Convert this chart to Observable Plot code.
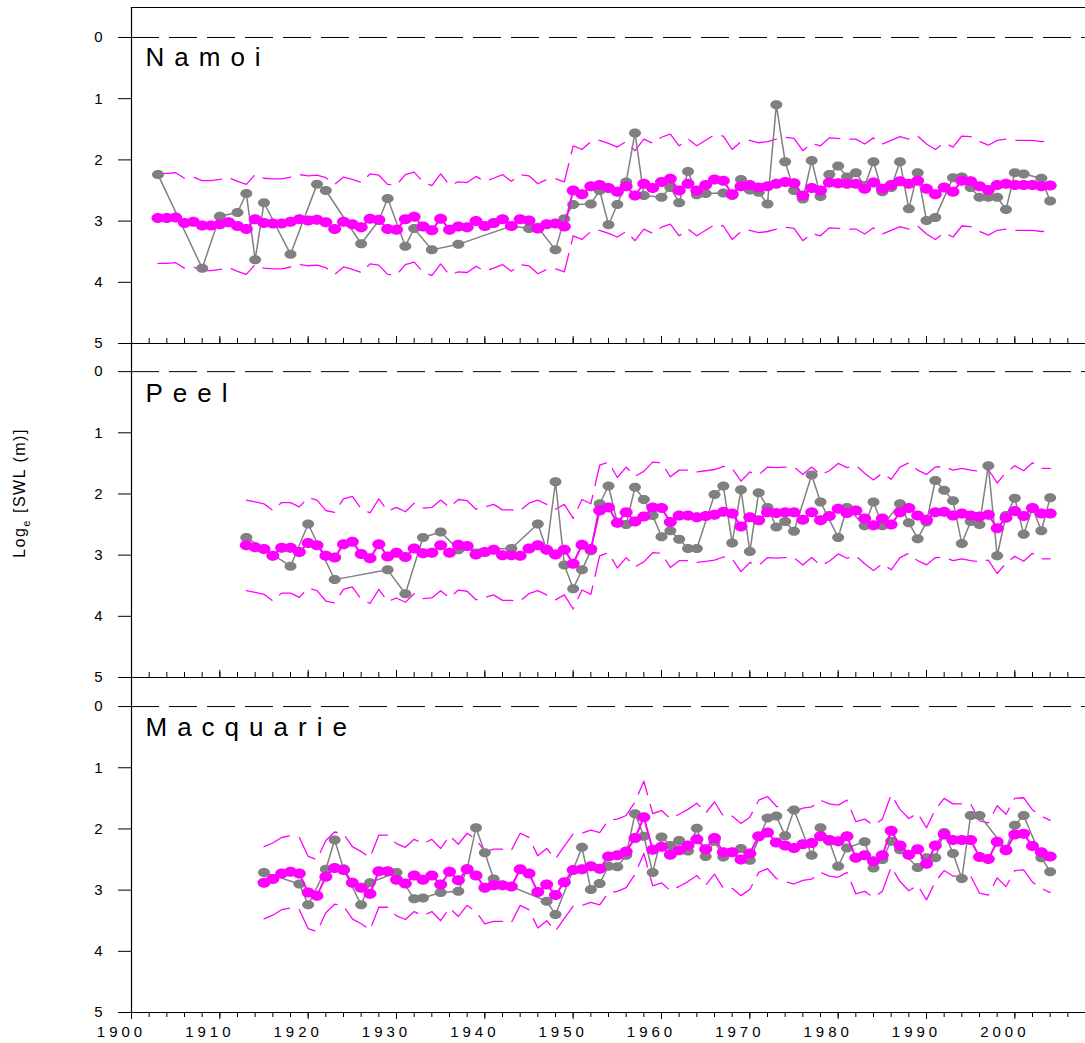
<!DOCTYPE html>
<html>
<head>
<meta charset="utf-8">
<script src="https://cdn.jsdelivr.net/npm/d3@7"></script>
<script src="https://cdn.jsdelivr.net/npm/@observablehq/plot@0.6"></script>
<style>
  html, body { margin: 0; padding: 0; background: #fff; }
  #chart svg { display: block; }
</style>
</head>
<body>
<div id="chart"></div>
<script>
// ---------------- data ----------------
const panelNames = ["Namoi", "Peel", "Macquarie"];
const yTicks = [0, 1, 2, 3, 4, 5];
const xLabelTicks = [1900, 1910, 1920, 1930, 1940, 1950, 1960, 1970, 1980, 1990, 2000];

// observed (grey)
const namoiObsYears = [1903,1908,1910,1912,1913,1914,1915,1918,1921,1922,1926,1928,1929,1931,1932,1934,1937,1943,1945,1946,1948,1949,1950,1952,1953,1954,1955,1956,1957,1958,1960,1961,1962,1963,1964,1965,1967,1968,1969,1970,1971,1972,1973,1974,1975,1976,1977,1978,1979,1980,1981,1982,1983,1984,1985,1986,1987,1988,1989,1990,1991,1993,1994,1995,1996,1997,1998,1999,2000,2001,2003,2004];
const namoiObsValues = [2.24,3.77,2.92,2.86,2.55,3.63,2.70,3.54,2.40,2.50,3.37,2.99,2.63,3.41,3.12,3.47,3.38,3.08,3.12,3.10,3.47,2.96,2.73,2.72,2.50,3.06,2.73,2.36,1.56,2.58,2.61,2.45,2.70,2.19,2.57,2.55,2.54,2.58,2.32,2.49,2.53,2.72,1.10,2.03,2.50,2.64,2.01,2.60,2.24,2.10,2.28,2.21,2.42,2.03,2.52,2.45,2.03,2.80,2.21,2.99,2.94,2.29,2.28,2.45,2.61,2.61,2.61,2.81,2.21,2.23,2.30,2.67];

const peelObsYears = [1913,1918,1920,1923,1929,1931,1933,1935,1937,1943,1946,1947,1948,1949,1950,1951,1952,1953,1954,1955,1956,1957,1958,1959,1960,1961,1962,1963,1964,1966,1967,1968,1969,1970,1971,1972,1973,1974,1975,1977,1978,1980,1981,1983,1984,1985,1987,1988,1989,1990,1991,1992,1993,1994,1995,1996,1997,1998,1999,2000,2001,2002,2003,2004];
const peelObsValues = [2.71,3.18,2.49,3.40,3.24,3.63,2.71,2.62,2.91,2.89,2.49,2.91,1.80,3.16,3.55,3.24,2.93,2.16,1.87,2.47,2.50,1.89,2.09,2.35,2.70,2.60,2.74,2.89,2.89,2.01,1.87,2.80,1.93,2.94,1.98,2.22,2.54,2.45,2.61,1.69,2.13,2.71,2.22,2.52,2.13,2.52,2.16,2.47,2.73,2.46,1.78,1.94,2.11,2.81,2.45,2.50,1.54,3.01,2.35,2.07,2.66,2.23,2.60,2.06];

const macqObsYears = [1915,1919,1920,1922,1923,1924,1926,1927,1930,1932,1933,1935,1937,1938,1939,1940,1941,1947,1948,1951,1952,1953,1954,1955,1956,1957,1958,1959,1960,1961,1962,1963,1964,1965,1966,1967,1969,1970,1972,1973,1974,1975,1977,1978,1979,1980,1981,1983,1984,1985,1986,1987,1989,1990,1991,1992,1993,1994,1995,1996,1999,2000,2001,2003,2004];
const macqObsValues = [2.71,2.90,3.24,2.66,2.18,2.65,3.24,2.88,2.71,3.14,3.13,3.04,3.02,2.65,1.98,2.39,2.82,3.18,3.40,2.30,2.99,2.89,2.61,2.62,2.43,1.75,2.12,2.71,2.13,2.27,2.19,2.36,1.99,2.45,2.20,2.46,2.32,2.51,1.82,1.79,2.11,1.69,2.43,1.98,2.20,2.61,2.31,2.21,2.64,2.50,2.20,2.34,2.63,2.47,2.47,2.06,2.40,2.81,1.78,1.78,2.33,1.94,1.78,2.47,2.70];

// fitted (magenta) with dashed bounds, one value per year from the start year
const namoiFitStart = 1903;
const namoiFit = [2.95,2.95,2.94,3.03,3.01,3.07,3.07,3.05,3.02,3.08,
  3.13,2.97,3.03,3.04,3.04,3.01,2.97,2.99,2.98,3.02,
  3.13,3.01,3.05,3.10,2.96,2.98,3.13,3.14,2.97,2.93,
  3.09,3.15,2.96,3.14,3.09,3.10,3.00,3.08,3.03,2.97,
  3.08,2.97,2.99,3.12,3.05,3.04,3.09,
  2.50,2.56,2.43,2.41,2.46,2.52,2.43,2.58,2.39,2.46,
  2.36,2.31,2.50,2.39,2.50,2.41,2.32,2.34,2.56,2.43,
  2.41,2.45,2.43,2.39,2.36,2.38,2.58,2.46,2.50,2.37,
  2.38,2.39,2.39,2.47,2.37,2.47,2.41,2.35,2.39,2.34,
  2.47,2.56,2.45,2.52,2.34,2.35,2.43,2.49,2.41,2.39,
  2.41,2.41,2.41,2.43,2.42];
const namoiUpper = [2.22,2.22,2.21,2.30,2.28,2.34,2.34,2.32,2.29,2.35,
  2.40,2.24,2.30,2.31,2.31,2.28,2.24,2.26,2.25,2.29,
  2.40,2.28,2.32,2.37,2.23,2.25,2.40,2.41,2.24,2.20,
  2.36,2.42,2.23,2.41,2.36,2.37,2.27,2.35,2.30,2.24,
  2.35,2.24,2.26,2.39,2.32,2.31,2.36,
  1.77,1.83,1.70,1.68,1.73,1.79,1.70,1.85,1.66,1.73,
  1.63,1.58,1.77,1.66,1.77,1.68,1.59,1.61,1.83,1.70,
  1.68,1.72,1.70,1.66,1.63,1.65,1.85,1.73,1.77,1.64,
  1.65,1.66,1.66,1.74,1.64,1.74,1.68,1.62,1.66,1.61,
  1.74,1.83,1.72,1.79,1.61,1.62,1.70,1.76,1.68,1.66,
  1.68,1.68,1.68,1.70,1.69];
const namoiLower = [3.69,3.69,3.68,3.77,3.75,3.81,3.81,3.79,3.76,3.82,
  3.87,3.71,3.77,3.78,3.78,3.75,3.71,3.73,3.72,3.76,
  3.87,3.75,3.79,3.84,3.70,3.72,3.87,3.88,3.71,3.67,
  3.83,3.89,3.70,3.88,3.83,3.84,3.74,3.82,3.77,3.71,
  3.82,3.71,3.73,3.86,3.79,3.78,3.83,
  3.24,3.30,3.17,3.15,3.20,3.26,3.17,3.32,3.13,3.20,
  3.10,3.05,3.24,3.13,3.24,3.15,3.06,3.08,3.30,3.17,
  3.15,3.19,3.17,3.13,3.10,3.12,3.32,3.20,3.24,3.11,
  3.12,3.13,3.13,3.21,3.11,3.21,3.15,3.09,3.13,3.08,
  3.21,3.30,3.19,3.26,3.08,3.09,3.17,3.23,3.15,3.13,
  3.15,3.15,3.15,3.17,3.16];

const peelFitStart = 1913;
const peelFit = [2.84,2.87,2.90,3.01,2.88,2.88,2.95,2.80,2.84,3.01,
  3.04,2.82,2.78,2.98,3.05,2.82,3.02,2.96,3.03,2.89,
  2.97,2.96,2.84,2.96,2.83,2.85,2.99,2.95,2.91,3.00,
  3.00,3.01,2.89,2.84,2.91,2.99,2.91,3.14,2.83,2.90,
  2.27,2.22,2.47,2.30,2.45,2.37,2.22,2.23,2.46,2.35,
  2.35,2.38,2.36,2.34,2.29,2.32,2.53,2.38,2.43,2.30,
  2.31,2.30,2.30,2.42,2.30,2.43,2.36,2.24,2.31,2.27,
  2.40,2.51,2.40,2.50,2.30,2.23,2.35,2.42,2.30,2.29,
  2.35,2.32,2.35,2.37,2.34,2.56,2.39,2.28,2.36,2.23,
  2.32,2.32];
const peelUpper = [2.10,2.13,2.16,2.27,2.14,2.14,2.21,2.06,2.10,2.27,
  2.30,2.08,2.04,2.24,2.31,2.08,2.28,2.22,2.29,2.15,
  2.23,2.22,2.10,2.22,2.09,2.11,2.25,2.21,2.17,2.26,
  2.26,2.27,2.15,2.10,2.17,2.25,2.17,2.40,2.09,2.16,
  1.53,1.48,1.73,1.56,1.71,1.63,1.48,1.49,1.72,1.61,
  1.61,1.64,1.62,1.60,1.55,1.58,1.79,1.64,1.69,1.56,
  1.57,1.56,1.56,1.68,1.56,1.69,1.62,1.50,1.57,1.53,
  1.66,1.77,1.66,1.76,1.56,1.49,1.61,1.68,1.56,1.55,
  1.61,1.58,1.61,1.63,1.60,1.82,1.65,1.54,1.62,1.49,
  1.58,1.58];
const peelLower = [3.58,3.61,3.64,3.75,3.62,3.62,3.69,3.54,3.58,3.75,
  3.78,3.56,3.52,3.72,3.79,3.56,3.76,3.70,3.77,3.63,
  3.71,3.70,3.58,3.70,3.57,3.59,3.73,3.69,3.65,3.74,
  3.74,3.75,3.63,3.58,3.65,3.73,3.65,3.88,3.57,3.64,
  3.01,2.96,3.21,3.04,3.19,3.11,2.96,2.97,3.20,3.09,
  3.09,3.12,3.10,3.08,3.03,3.06,3.27,3.12,3.17,3.04,
  3.05,3.04,3.04,3.16,3.04,3.17,3.10,2.98,3.05,3.01,
  3.14,3.25,3.14,3.24,3.04,2.97,3.09,3.16,3.04,3.03,
  3.09,3.06,3.09,3.11,3.08,3.30,3.13,3.02,3.10,2.97,
  3.06,3.06];

const macqFitStart = 1915;
const macqFit = [2.88,2.82,2.73,2.70,2.73,3.04,3.09,2.78,2.64,2.67,
  2.88,2.96,3.06,2.69,2.69,2.83,2.89,2.76,2.83,2.76,
  2.91,2.70,2.84,2.66,2.76,2.96,2.92,2.92,2.94,2.66,
  2.73,3.03,2.91,3.08,2.87,2.67,2.66,2.61,2.65,2.45,
  2.43,2.37,2.15,1.81,2.34,2.29,2.42,2.35,2.27,2.17,
  2.33,2.15,2.38,2.38,2.50,2.40,2.12,2.06,2.22,2.27,
  2.31,2.25,2.23,2.12,2.18,2.20,2.12,2.47,2.43,2.53,
  2.43,2.03,2.27,2.42,2.33,2.57,2.27,2.09,2.18,2.18,
  2.18,2.46,2.49,2.21,2.35,2.09,2.08,2.28,2.38,2.45];
const macqUpper = [2.29,2.23,2.14,2.11,2.14,2.45,2.50,2.19,2.05,2.08,
  2.29,2.37,2.47,2.10,2.10,2.24,2.30,2.17,2.24,2.17,
  2.32,2.11,2.25,2.07,2.17,2.37,2.33,2.33,2.35,2.07,
  2.14,2.44,2.32,2.49,2.28,2.08,2.07,2.02,2.06,1.86,
  1.84,1.78,1.56,1.22,1.75,1.70,1.83,1.76,1.68,1.58,
  1.74,1.56,1.79,1.79,1.91,1.81,1.53,1.47,1.63,1.68,
  1.72,1.66,1.64,1.53,1.59,1.61,1.53,1.88,1.84,1.94,
  1.84,1.44,1.68,1.83,1.74,1.98,1.68,1.50,1.59,1.59,
  1.59,1.87,1.90,1.62,1.76,1.50,1.49,1.69,1.79,1.86];
const macqLower = [3.47,3.41,3.32,3.29,3.32,3.63,3.68,3.37,3.23,3.26,
  3.47,3.55,3.65,3.28,3.28,3.42,3.48,3.35,3.42,3.35,
  3.50,3.29,3.43,3.25,3.35,3.55,3.51,3.51,3.53,3.25,
  3.32,3.62,3.50,3.67,3.46,3.26,3.25,3.20,3.24,3.04,
  3.02,2.96,2.74,2.40,2.93,2.88,3.01,2.94,2.86,2.76,
  2.92,2.74,2.97,2.97,3.09,2.99,2.71,2.65,2.81,2.86,
  2.90,2.84,2.82,2.71,2.77,2.79,2.71,3.06,3.02,3.12,
  3.02,2.62,2.86,3.01,2.92,3.16,2.86,2.68,2.77,2.77,
  2.77,3.05,3.08,2.80,2.94,2.68,2.67,2.87,2.97,3.04];

// ---------------- drawing ----------------
const GREY = "#808080", MAG = "#ff00ff";
const FONT = '"Liberation Sans", Arial, Helvetica, sans-serif';

function ellipse(kx, ky) {
  return {
    draw(ctx, size) {
      const r = Math.sqrt(size / Math.PI), rx = r * kx, ry = r * ky, c = 0.5523;
      ctx.moveTo(rx, 0);
      ctx.bezierCurveTo(rx, ry * c, rx * c, ry, 0, ry);
      ctx.bezierCurveTo(-rx * c, ry, -rx, ry * c, -rx, 0);
      ctx.bezierCurveTo(-rx, -ry * c, -rx * c, -ry, 0, -ry);
      ctx.bezierCurveTo(rx * c, -ry, rx, -ry * c, rx, 0);
      ctx.closePath();
    }
  };
}

const panels = [
  {name: panelNames[0], obsYears: namoiObsYears, obsValues: namoiObsValues, start: namoiFitStart, fit: namoiFit, upper: namoiUpper, lower: namoiLower},
  {name: panelNames[1], obsYears: peelObsYears, obsValues: peelObsValues, start: peelFitStart, fit: peelFit, upper: peelUpper, lower: peelLower},
  {name: panelNames[2], obsYears: macqObsYears, obsValues: macqObsValues, start: macqFitStart, fit: macqFit, upper: macqUpper, lower: macqLower}
];
const layout = [
  {height: 343, marginTop: 7, marginBottom: 0, yTop: -0.49},
  {height: 334, marginTop: 0, marginBottom: 0, yTop: -0.46},
  {height: 366, marginTop: 0, marginBottom: 31, yTop: -0.475}
];

const minorTicks = d3.range(1902, 2009, 2);
const chart = document.getElementById("chart");

panels.forEach((p, i) => {
  const L = layout[i];
  const last = i === panels.length - 1;
  const byYear = (vals) => vals.map((v, j) => ({year: p.start + j, v}));
  const fit = byYear(p.fit), up = byYear(p.upper), lo = byYear(p.lower);
  const obs = p.obsYears.map((y, j) => ({year: y, v: p.obsValues[j]}));

  const marks = [
    Plot.ruleY([0], {stroke: "#000", strokeWidth: 1, strokeDasharray: "28,10"}),
    Plot.line(up, {x: "year", y: "v", stroke: MAG, strokeWidth: 1.3, strokeDasharray: "28,10"}),
    Plot.line(lo, {x: "year", y: "v", stroke: MAG, strokeWidth: 1.3, strokeDasharray: "28,10"}),
    Plot.line(obs, {x: "year", y: "v", stroke: GREY, strokeWidth: 1.5}),
    Plot.dot(obs, {x: "year", y: "v", fill: GREY, r: 5, symbol: ellipse(1.2, 0.9)}),
    Plot.line(fit, {x: "year", y: "v", stroke: MAG, strokeWidth: 2}),
    Plot.dot(fit, {x: "year", y: "v", fill: MAG, r: 5, symbol: ellipse(1.3, 1.0)}),
    Plot.frame({anchor: "left", stroke: "#000", strokeWidth: 1.2}),
    Plot.frame({anchor: "bottom", stroke: "#000", strokeWidth: 1.2}),
    Plot.axisY(yTicks, {tickSize: 13, tickPadding: 16, fontSize: 15, label: null, tickFormat: d => String(d)}),
    Plot.text([p.name], {text: d => d, frameAnchor: "top-left", dx: 14, dy: 40, lineAnchor: "top", textAnchor: "start", fontSize: 26, fill: "#000"})
  ];
  if (i === 0) marks.push(Plot.frame({anchor: "top", stroke: "#000", strokeWidth: 1.2}));
  if (last) {
    marks.push(Plot.axisX(minorTicks, {anchor: "bottom", tickSize: 5, tickFormat: () => "", label: null}));
    marks.push(Plot.axisX(xLabelTicks, {anchor: "bottom", tickSize: 7, tickPadding: 7, fontSize: 15, label: null, tickFormat: d => String(d)}));
  } else {
    marks.push(Plot.axisX(minorTicks, {anchor: "bottom", tickSize: -5, tickFormat: () => "", label: null}));
    marks.push(Plot.axisX(xLabelTicks, {anchor: "bottom", tickSize: -7, tickFormat: () => "", label: null}));
  }

  const svg = Plot.plot({
    width: 1085,
    height: L.height,
    marginLeft: 131,
    marginRight: 0,
    marginTop: L.marginTop,
    marginBottom: L.marginBottom,
    style: {fontFamily: FONT, fontSize: "14px", background: "#fff", overflow: "visible", color: "#000"},
    x: {domain: [1900, 2008]},
    y: {domain: [L.yTop, 5], reverse: true},
    marks
  });

  // letter spacing as in the original figure
  d3.select(svg).selectAll("text").each(function () {
    const s = this.textContent;
    if (panelNames.includes(s)) {
      this.style.letterSpacing = "10px";
    } else if (/^\d{4}$/.test(s)) {
      this.style.letterSpacing = "4px";
      this.setAttribute("dx", "-10");
    }
  });

  if (i === 1) {
    const t = d3.select(svg).append("text")
      .attr("transform", "translate(25,150) rotate(-90)")
      .attr("text-anchor", "middle")
      .attr("fill", "#000")
      .style("font-family", FONT)
      .style("font-size", "16px")
      .style("letter-spacing", "1.5px");
    t.append("tspan").text("Log");
    t.append("tspan").attr("dy", 5).style("font-size", "11px").text("e");
    t.append("tspan").attr("dy", -5).text(" [SWL (m)]");
  }
  chart.appendChild(svg);
});
</script>
</body>
</html>
